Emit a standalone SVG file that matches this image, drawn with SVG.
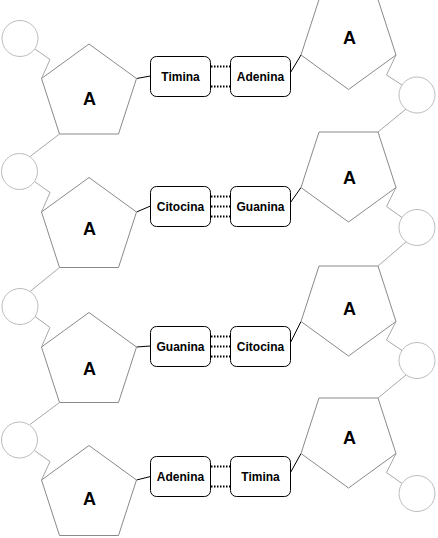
<svg xmlns="http://www.w3.org/2000/svg" width="438" height="538" viewBox="0 0 438 538">
<style>
.bg{fill:#fff}
.pent{fill:#fff;stroke:#8a8a8a;stroke-width:1}
.circ{fill:#fff;stroke:#bdbdbd;stroke-width:1}
.box{fill:#fff;stroke:#000;stroke-width:1}
.lbl{font-family:"Liberation Sans",Arial,sans-serif;font-weight:bold;font-size:12px;fill:#000;text-anchor:middle}
.big{font-family:"Liberation Sans",Arial,sans-serif;font-weight:bold;font-size:18px;fill:#000;text-anchor:middle}
.gl{fill:none;stroke:#a8a8a8;stroke-width:1}
.bl{fill:none;stroke:#000;stroke-width:1}
.dot{fill:none;stroke:#000;stroke-width:2;stroke-dasharray:1.5 1.5}
</style>
<rect class="bg" x="0" y="0" width="438" height="538"/>
<g id="connectors">
  <polyline class="gl" points="34.7,48.8 50,59.5 41.5,78.5"/>
  <line class="gl" x1="59.5" y1="134" x2="30" y2="156.5"/>
  <polyline class="gl" points="34.5,181.5 50,192.5 41.5,212"/>
  <line class="gl" x1="59.5" y1="267.5" x2="30" y2="291.5"/>
  <polyline class="gl" points="35,316.5 50,327.5 41.5,347"/>
  <line class="gl" x1="59.5" y1="402.5" x2="30" y2="424.5"/>
  <polyline class="gl" points="34.5,450.5 50,461.5 41.5,480"/>
  <polyline class="gl" points="396,55 386.5,75 402,85"/>
  <line class="gl" x1="406" y1="109" x2="378" y2="132"/>
  <polyline class="gl" points="396,187.5 386.5,206.5 402,217.5"/>
  <line class="gl" x1="406" y1="242" x2="378" y2="266"/>
  <polyline class="gl" points="396,321.5 386.5,340 402,350.5"/>
  <line class="gl" x1="406" y1="375" x2="378" y2="398"/>
  <polyline class="gl" points="396,453.5 386.5,472.5 402,483.5"/>
  <line class="bl" x1="136.5" y1="78.5" x2="150.5" y2="76"/>
  <line class="bl" x1="136.5" y1="212" x2="150.5" y2="206"/>
  <line class="bl" x1="136.5" y1="347" x2="150.5" y2="346"/>
  <line class="bl" x1="136.5" y1="480" x2="150.5" y2="476.5"/>
  <line class="bl" x1="290.5" y1="72.5" x2="301" y2="55"/>
  <line class="bl" x1="290.5" y1="202.5" x2="301" y2="187.5"/>
  <line class="bl" x1="290.5" y1="342.5" x2="301" y2="321.5"/>
  <line class="bl" x1="290.5" y1="472.5" x2="301" y2="453.5"/>
  <line class="dot" x1="211" y1="66.5" x2="230" y2="66.5"/>
  <line class="dot" x1="211" y1="86.5" x2="230" y2="86.5"/>
  <line class="dot" x1="211" y1="196.5" x2="230" y2="196.5"/>
  <line class="dot" x1="211" y1="206.5" x2="230" y2="206.5"/>
  <line class="dot" x1="211" y1="216.5" x2="230" y2="216.5"/>
  <line class="dot" x1="211" y1="336.5" x2="230" y2="336.5"/>
  <line class="dot" x1="211" y1="346.5" x2="230" y2="346.5"/>
  <line class="dot" x1="211" y1="356.5" x2="230" y2="356.5"/>
  <line class="dot" x1="211" y1="466.5" x2="230" y2="466.5"/>
  <line class="dot" x1="211" y1="486.5" x2="230" y2="486.5"/>
</g>
<g id="circle-l1"><circle class="circ" cx="20" cy="38.5" r="18"/></g>
<g id="circle-l2"><circle class="circ" cx="19.5" cy="171.5" r="18"/></g>
<g id="circle-l3"><circle class="circ" cx="20" cy="306.5" r="18"/></g>
<g id="circle-l4"><circle class="circ" cx="19.5" cy="440" r="18"/></g>
<g id="circle-r1"><circle class="circ" cx="417" cy="95" r="18"/></g>
<g id="circle-r2"><circle class="circ" cx="417" cy="227.5" r="18"/></g>
<g id="circle-r3"><circle class="circ" cx="417" cy="360.5" r="18"/></g>
<g id="circle-r4"><circle class="circ" cx="417" cy="493.5" r="18"/></g>
<g id="pent-l1"><polygon class="pent" points="89,44 136.5,78.5 118.5,134 59.5,134 41.5,78.5"/><text class="big" x="89.5" y="104.5">A</text></g>
<g id="pent-l2"><polygon class="pent" points="89,177.5 136.5,212 118.5,267.5 59.5,267.5 41.5,212"/><text class="big" x="89.5" y="234.5">A</text></g>
<g id="pent-l3"><polygon class="pent" points="89,312.5 136.5,347 118.5,402.5 59.5,402.5 41.5,347"/><text class="big" x="89.5" y="374.5">A</text></g>
<g id="pent-l4"><polygon class="pent" points="89,445.5 136.5,480 118.5,535.5 59.5,535.5 41.5,480"/><text class="big" x="89.5" y="504.5">A</text></g>
<g id="pent-r1"><polygon class="pent" points="348.5,89.5 396,55 378,-0.5 319,-0.5 301,55"/><text class="big" x="349.5" y="44.2">A</text></g>
<g id="pent-r2"><polygon class="pent" points="348.5,222 396,187.5 378,132 319,132 301,187.5"/><text class="big" x="349.5" y="183.8">A</text></g>
<g id="pent-r3"><polygon class="pent" points="348.5,356 396,321.5 378,266 319,266 301,321.5"/><text class="big" x="349.5" y="314.8">A</text></g>
<g id="pent-r4"><polygon class="pent" points="348.5,488 396,453.5 378,398 319,398 301,453.5"/><text class="big" x="349.5" y="443.8">A</text></g>
<g id="box-timina-1"><rect class="box" x="150.5" y="56.5" width="60" height="40" rx="6"/><text class="lbl" x="180.5" y="81">Timina</text></g>
<g id="box-adenina-1"><rect class="box" x="230.5" y="56.5" width="60" height="40" rx="6"/><text class="lbl" x="260.5" y="81">Adenina</text></g>
<g id="box-citocina-2"><rect class="box" x="150.5" y="186.5" width="60" height="40" rx="6"/><text class="lbl" x="180.5" y="211">Citocina</text></g>
<g id="box-guanina-2"><rect class="box" x="230.5" y="186.5" width="60" height="40" rx="6"/><text class="lbl" x="260.5" y="211">Guanina</text></g>
<g id="box-guanina-3"><rect class="box" x="150.5" y="326.5" width="60" height="40" rx="6"/><text class="lbl" x="180.5" y="351">Guanina</text></g>
<g id="box-citocina-3"><rect class="box" x="230.5" y="326.5" width="60" height="40" rx="6"/><text class="lbl" x="260.5" y="351">Citocina</text></g>
<g id="box-adenina-4"><rect class="box" x="150.5" y="456.5" width="60" height="40" rx="6"/><text class="lbl" x="180.5" y="481">Adenina</text></g>
<g id="box-timina-4"><rect class="box" x="230.5" y="456.5" width="60" height="40" rx="6"/><text class="lbl" x="260.5" y="481">Timina</text></g>
</svg>
